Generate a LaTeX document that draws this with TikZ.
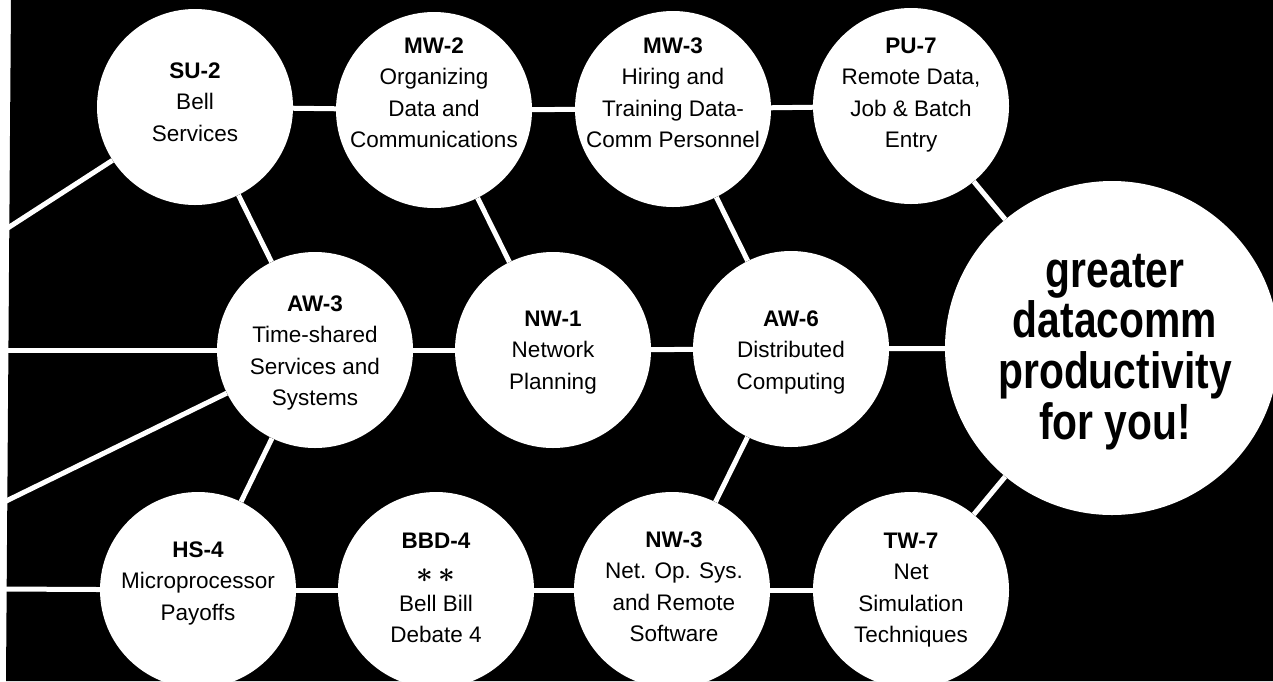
\documentclass[tikz,border=0pt]{standalone}
\usepackage{fontspec}
\setmainfont{Liberation Sans}
\newfontfamily\bigfont[FakeStretch=0.8]{Liberation Sans}
\newcommand{\bigast}{\raisebox{-3pt}{\scalebox{1.4}{\boldmath$\ast$}}}
\begin{document}
\begin{tikzpicture}[x=1pt,y=-1pt,
  disc/.style={circle,fill=white,inner sep=0pt,minimum size=196pt},
  bigdisc/.style={circle,fill=white,inner sep=0pt,minimum size=334pt},
  lbl/.style={anchor=north,align=center,inner sep=0pt,text=black,
              font=\fontsize{22.5}{31.5}\selectfont},
  biglbl/.style={anchor=north,align=center,inner sep=0pt,text=black,
              font=\bigfont\bfseries\fontsize{51}{50.7}\selectfont},
  link/.style={draw=white,line width=5pt}]
\useasboundingbox (0,0) rectangle (1273,681);
\clip (0,0) rectangle (1273,681);
\fill[white] (0,0) rectangle (1273,681);
\fill[black] (11,0) -- (1273,0) -- (1273,681) -- (6,681) -- cycle;

% discs
\node[disc] (su2) at (195,107) {};
\node[disc] (mw2) at (434,110) {};
\node[disc] (mw3) at (673,109) {};
\node[disc] (pu7) at (911,106) {};
\node[disc] (aw3) at (315,350) {};
\node[disc] (nw1) at (553,350) {};
\node[disc] (aw6) at (791,349) {};
\node[disc] (hs4) at (198,590) {};
\node[disc] (bbd4) at (436,590) {};
\node[disc] (nw3) at (672,590) {};
\node[disc] (tw7) at (911,590) {};
\node[bigdisc] (big) at (1112,348) {};

% free ends at the left margin
\coordinate (e1) at (0,233);
\coordinate (e2) at (0,350);
\coordinate (e3) at (0,504);
\coordinate (e4) at (0,589);

% connectors
\draw[link] (su2) -- (mw2);
\draw[link] (mw2) -- (mw3);
\draw[link] (mw3) -- (pu7);
\draw[link] (pu7) -- (big);
\draw[link] (su2) -- (e1);
\draw[link] (su2) -- (aw3);
\draw[link] (mw2) -- (nw1);
\draw[link] (mw3) -- (aw6);
\draw[link] (aw3) -- (e2);
\draw[link] (aw3) -- (nw1);
\draw[link] (nw1) -- (aw6);
\draw[link] (aw6) -- (big);
\draw[link] (aw3) -- (e3);
\draw[link] (aw3) -- (hs4);
\draw[link] (aw6) -- (nw3);
\draw[link] (hs4) -- (e4);
\draw[link] (hs4) -- (bbd4);
\draw[link] (bbd4) -- (nw3);
\draw[link] (nw3) -- (tw7);
\draw[link] (tw7) -- (big);

% labels (north at first baseline minus 16)
\node[lbl] (su2t) at (195,62) {\rule{0pt}{16pt}\textbf{SU-2}\\Bell\\Services};
\node[lbl] (mw2t) at (434,37) {\rule{0pt}{16pt}\textbf{MW-2}\\Organizing\\Data and\\Communications};
\node[lbl] (mw3t) at (673,37) {\rule{0pt}{16pt}\textbf{MW-3}\\Hiring and\\Training Data-\\Comm Personnel};
\node[lbl] (pu7t) at (911,37) {\rule{0pt}{16pt}\textbf{PU-7}\\Remote Data,\\Job \& Batch\\Entry};
\node[lbl] (aw3t) at (315,295) {\rule{0pt}{16pt}\textbf{AW-3}\\Time-shared\\Services and\\Systems};
\node[lbl] (nw1t) at (553,310) {\rule{0pt}{16pt}\textbf{NW-1}\\Network\\Planning};
\node[lbl] (aw6t) at (791,310) {\rule{0pt}{16pt}\textbf{AW-6}\\Distributed\\Computing};
\node[lbl] (hs4t) at (198,541) {\rule{0pt}{16pt}\textbf{HS-4}\\Microprocessor\\Payoffs};
\node[lbl] (bbd4t) at (436,532) {\rule{0pt}{16pt}\textbf{BBD-4}\\\bigast\hspace{5pt}\bigast\\Bell Bill\\Debate 4};
\node[lbl] (nw3t) at (674,531) {\rule{0pt}{16pt}\textbf{NW-3}\\Net. Op. Sys.\\and Remote\\Software};
\node[lbl] (tw7t) at (911,532) {\rule{0pt}{16pt}\textbf{TW-7}\\Net\\Simulation\\Techniques};
\node[biglbl] (bigt) at (1115,247) {\rule{0pt}{40pt}greater\\datacomm\\productivity\\for you!};
\end{tikzpicture}
\end{document}
